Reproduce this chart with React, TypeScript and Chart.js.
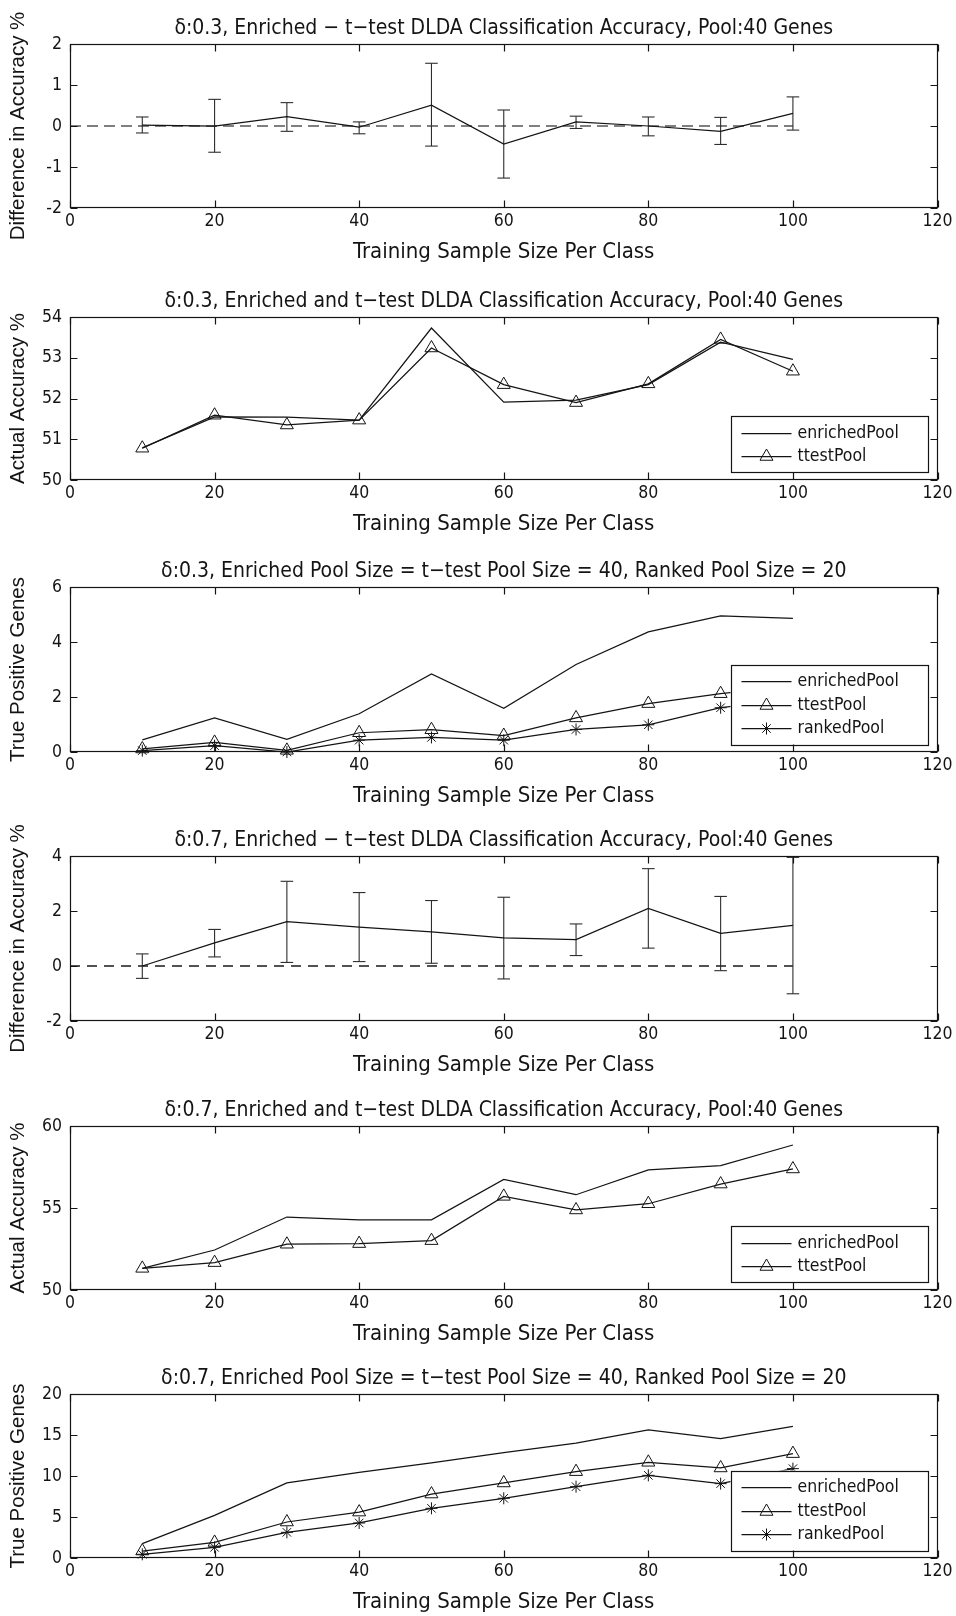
import React, { useEffect, useRef } from 'react';
import { Chart, registerables } from 'chart.js';
import { drawPoint } from 'chart.js/helpers';

Chart.register(...registerables);

// ---------------- data ----------------
const xValues = [10, 20, 30, 40, 50, 60, 70, 80, 90, 100];
const xTickValues = [0, 20, 40, 60, 80, 100, 120];
const zeroLineX = [0, 100];
const zeroLineY = [0, 0];

// delta 0.3 : enriched - ttest difference
const diff03 = [0.02, 0.0, 0.23, -0.03, 0.51, -0.44, 0.1, 0.0, -0.13, 0.31];
const diff03Low = [-0.17, -0.64, -0.13, -0.19, -0.49, -1.27, -0.06, -0.24, -0.45, -0.1];
const diff03High = [0.22, 0.65, 0.57, 0.1, 1.53, 0.39, 0.24, 0.22, 0.21, 0.71];

// delta 0.3 : actual accuracy
const acc03Enriched = [50.79, 51.55, 51.54, 51.47, 53.73, 51.91, 51.96, 52.34, 53.38, 52.96];
const acc03Ttest = [50.78, 51.59, 51.35, 51.47, 53.24, 52.34, 51.9, 52.36, 53.45, 52.67];

// delta 0.3 : true positive genes
const tp03Enriched = [0.44, 1.24, 0.46, 1.39, 2.84, 1.59, 3.18, 4.37, 4.95, 4.86];
const tp03Ttest = [0.11, 0.35, 0.06, 0.7, 0.81, 0.6, 1.24, 1.76, 2.12, 2.4];
const tp03Ranked = [0.05, 0.23, 0.0, 0.43, 0.53, 0.43, 0.82, 0.99, 1.61, 1.9];

// delta 0.7 : enriched - ttest difference
const diff07 = [0.0, 0.84, 1.61, 1.41, 1.24, 1.02, 0.96, 2.09, 1.19, 1.48];
const diff07Low = [-0.45, 0.33, 0.13, 0.16, 0.1, -0.47, 0.38, 0.65, -0.17, -1.01];
const diff07High = [0.44, 1.33, 3.08, 2.67, 2.38, 2.5, 1.53, 3.54, 2.53, 3.95];

// delta 0.7 : actual accuracy
const acc07Enriched = [51.32, 52.44, 54.45, 54.28, 54.28, 56.74, 55.81, 57.33, 57.58, 58.84];
const acc07Ttest = [51.32, 51.67, 52.79, 52.83, 53.01, 55.71, 54.88, 55.26, 56.46, 57.38];

// delta 0.7 : true positive genes
const tp07Enriched = [1.75, 5.2, 9.15, 10.45, 11.59, 12.85, 14.02, 15.61, 14.55, 16.06];
const tp07Ttest = [0.85, 1.9, 4.39, 5.6, 7.8, 9.15, 10.53, 11.67, 10.98, 12.73];
const tp07Ranked = [0.45, 1.3, 3.13, 4.27, 6.06, 7.28, 8.7, 10.08, 9.07, 10.9];

const yTicksDiff03 = [-2, -1, 0, 1, 2];
const yTicksAcc03 = [50, 51, 52, 53, 54];
const yTicksTp03 = [0, 2, 4, 6];
const yTicksDiff07 = [-2, 0, 2, 4];
const yTicksAcc07 = [50, 55, 60];
const yTicksTp07 = [0, 5, 10, 15, 20];

const titles = [
  'δ:0.3, Enriched − t−test DLDA Classification Accuracy, Pool:40 Genes',
  'δ:0.3, Enriched and t−test DLDA Classification Accuracy, Pool:40 Genes',
  'δ:0.3, Enriched Pool Size = t−test Pool Size = 40, Ranked Pool Size = 20',
  'δ:0.7, Enriched − t−test DLDA Classification Accuracy, Pool:40 Genes',
  'δ:0.7, Enriched and t−test DLDA Classification Accuracy, Pool:40 Genes',
  'δ:0.7, Enriched Pool Size = t−test Pool Size = 40, Ranked Pool Size = 20',
];
const yLabels = [
  'Difference in Accuracy %',
  'Actual Accuracy %',
  'True Positive Genes',
  'Difference in Accuracy %',
  'Actual Accuracy %',
  'True Positive Genes',
];
const xLabel = 'Training Sample Size Per Class';
const seriesNames = ['enrichedPool', 'ttestPool', 'rankedPool'];

// ---------------- styling / layout ----------------
const NARROW = '"Liberation Sans Narrow", "DejaVu Sans Condensed", "Arial Narrow", sans-serif';
const WIDE = '"Liberation Sans", Arial, sans-serif';
const INK = '#141414';
const TITLE_BLOCK = 44;
const BELOW_PLOT = 62;
const PLOT_LEFT = 70;
const RIGHT_PAD = 18.5;
const TITLE_SIZE = 21;
const XLABEL_SIZE = 22;
const YLABEL_SIZE = 20.5;
const TICK_SIZE = 17.5;
const LEGEND_SIZE = 17.5;
const LINE_W = 1.25;

const layoutTops = [44, 317, 587, 856, 1126, 1394];
const layoutHeights = [164, 163, 165, 165, 164, 164];

const pts = (ys: number[]) => xValues.map((x, i) => ({ x, y: ys[i] }));

function whiskerPoints(low: number[], high: number[]) {
  const out: any[] = [];
  xValues.forEach((x, i) => {
    out.push({ x, y: low[i] }, { x, y: high[i] }, { x, y: null });
  });
  return out;
}
function capPoints(low: number[], high: number[]) {
  return [...pts(low), ...pts(high)];
}

const panelTitlePlugin = {
  id: 'panelTitle',
  afterDraw(chart: any, _args: any, opts: any) {
    if (!opts || !opts.text) return;
    const { ctx, chartArea: ca } = chart;
    ctx.save();
    ctx.fillStyle = INK;
    ctx.font = `${TITLE_SIZE}px ${NARROW}`;
    ctx.textAlign = 'center';
    ctx.textBaseline = 'middle';
    ctx.fillText(opts.text, (ca.left + ca.right) / 2, ca.top - 15);
    ctx.restore();
  },
};

const framePlugin = {
  id: 'matlabFrame',
  afterDatasetsDraw(chart: any) {
    const { ctx, chartArea: ca, scales } = chart;
    const L = Math.round(ca.left) + 0.5;
    const R = Math.round(ca.right) - 0.5;
    const T = Math.round(ca.top) + 0.5;
    const B = Math.round(ca.bottom) - 0.5;
    ctx.save();
    ctx.strokeStyle = INK;
    ctx.lineWidth = 1.2;
    ctx.setLineDash([]);
    ctx.strokeRect(L, T, R - L, B - T);
    const tl = 7;
    ctx.beginPath();
    scales.x.ticks.forEach((t: any) => {
      const px = Math.round(scales.x.getPixelForValue(t.value)) + 0.5;
      ctx.moveTo(px, B);
      ctx.lineTo(px, B - tl);
      ctx.moveTo(px, T);
      ctx.lineTo(px, T + tl);
    });
    scales.y.ticks.forEach((t: any) => {
      const py = Math.round(scales.y.getPixelForValue(t.value)) + 0.5;
      ctx.moveTo(L, py);
      ctx.lineTo(L + tl, py);
      ctx.moveTo(R, py);
      ctx.lineTo(R - tl, py);
    });
    ctx.stroke();
    ctx.restore();
  },
};

const legendPlugin = {
  id: 'matlabLegend',
  afterDraw(chart: any) {
    const items = chart.data.datasets.filter((d: any) => d.label);
    if (!items.length) return;
    const { ctx, chartArea: ca } = chart;
    const w = 197;
    const h = 16.5 + 23.5 * (items.length - 1) + 16;
    const right = ca.right - 10;
    const left = right - w;
    const bottom = ca.bottom - 8;
    const top = bottom - h;
    ctx.save();
    ctx.fillStyle = '#ffffff';
    ctx.fillRect(left, top, w, h);
    ctx.strokeStyle = INK;
    ctx.lineWidth = 1.2;
    ctx.strokeRect(Math.round(left) + 0.5, Math.round(top) + 0.5, w, Math.round(h));
    items.forEach((d: any, i: number) => {
      const y = Math.round(top + 16.5 + i * 23.5) + 0.5;
      ctx.strokeStyle = d.borderColor;
      ctx.lineWidth = d.borderWidth;
      ctx.beginPath();
      ctx.moveTo(left + 11, y);
      ctx.lineTo(left + 61, y);
      ctx.stroke();
      if (d.pointRadius > 0) {
        ctx.fillStyle = 'rgba(0,0,0,0)';
        ctx.strokeStyle = d.pointBorderColor;
        ctx.lineWidth = 1;
        drawPoint(ctx, { pointStyle: d.pointStyle, radius: d.pointRadius, borderWidth: 1, rotation: 0 } as any, left + 36, y);
      }
      ctx.fillStyle = INK;
      ctx.font = `${LEGEND_SIZE}px ${NARROW}`;
      ctx.textBaseline = 'middle';
      ctx.textAlign = 'left';
      ctx.fillText(d.label, left + 67, y);
    });
    ctx.restore();
  },
};

function seriesDataset(label: string | undefined, ys: number[], style: string | null, radius: number) {
  return {
    label,
    data: pts(ys),
    borderColor: INK,
    borderWidth: LINE_W,
    pointStyle: style || 'circle',
    pointRadius: style ? radius : 0,
    pointBorderColor: INK,
    pointBackgroundColor: 'rgba(0,0,0,0)',
    pointBorderWidth: 1,
    tension: 0,
    clip: false,
  };
}

function errorDatasets(mean: number[], low: number[], high: number[], dashColor: string, dash: number[]) {
  return [
    {
      data: pts(mean),
      borderColor: INK,
      borderWidth: LINE_W,
      pointRadius: 0,
      clip: false,
    },
    {
      data: whiskerPoints(low, high),
      borderColor: '#2e2e2e',
      borderWidth: 1.1,
      pointRadius: 0,
      spanGaps: false,
      clip: false,
    },
    {
      data: capPoints(low, high),
      showLine: false,
      pointStyle: 'line',
      pointRadius: 6.3,
      pointBorderWidth: 1.1,
      pointBorderColor: '#2e2e2e',
      clip: false,
    },
    {
      data: zeroLineX.map((x, i) => ({ x, y: zeroLineY[i] })),
      borderColor: dashColor,
      borderWidth: 1.3,
      borderDash: dash,
      pointRadius: 0,
      clip: false,
    },
  ];
}

const panelDatasets = [
  () => errorDatasets(diff03, diff03Low, diff03High, '#555555', [11, 6]),
  () => [
    seriesDataset(seriesNames[0], acc03Enriched, null, 0),
    seriesDataset(seriesNames[1], acc03Ttest, 'triangle', 7.5),
  ],
  () => [
    seriesDataset(seriesNames[0], tp03Enriched, null, 0),
    seriesDataset(seriesNames[1], tp03Ttest, 'triangle', 7.5),
    seriesDataset(seriesNames[2], tp03Ranked, 'star', 6),
  ],
  () => errorDatasets(diff07, diff07Low, diff07High, '#1a1a1a', [10, 7]),
  () => [
    seriesDataset(seriesNames[0], acc07Enriched, null, 0),
    seriesDataset(seriesNames[1], acc07Ttest, 'triangle', 7.5),
  ],
  () => [
    seriesDataset(seriesNames[0], tp07Enriched, null, 0),
    seriesDataset(seriesNames[1], tp07Ttest, 'triangle', 7.5),
    seriesDataset(seriesNames[2], tp07Ranked, 'star', 6),
  ],
];
const panelYTicks = [yTicksDiff03, yTicksAcc03, yTicksTp03, yTicksDiff07, yTicksAcc07, yTicksTp07];

function makeConfig(i: number): any {
  const yt = panelYTicks[i];
  const xlLH = XLABEL_SIZE * 1.2;
  const ylLH = YLABEL_SIZE * 1.2;
  return {
    type: 'line',
    data: { datasets: panelDatasets[i]() },
    options: {
      animation: false,
      responsive: false,
      devicePixelRatio: 1,
      events: [],
      layout: { padding: { left: 0, right: RIGHT_PAD, top: TITLE_BLOCK, bottom: 0 } },
      plugins: {
        legend: { display: false },
        tooltip: { enabled: false },
        title: { display: false },
        panelTitle: { text: titles[i] },
      },
      scales: {
        x: {
          type: 'linear',
          min: 0,
          max: 120,
          afterBuildTicks: (s: any) => {
            s.ticks = xTickValues.map((v) => ({ value: v }));
          },
          afterFit: (s: any) => {
            s.height = BELOW_PLOT;
          },
          grid: { display: false, drawTicks: false, tickLength: 0 },
          border: { display: false },
          ticks: {
            color: INK,
            padding: 3,
            maxRotation: 0,
            autoSkip: false,
            font: { family: NARROW, size: TICK_SIZE },
            callback: (v: any) => String(v),
          },
          title: {
            display: true,
            text: xLabel,
            color: INK,
            font: { family: NARROW, size: XLABEL_SIZE, lineHeight: 1.2 },
            padding: { top: 0, bottom: BELOW_PLOT - 44 - xlLH / 2 },
          },
        },
        y: {
          type: 'linear',
          min: yt[0],
          max: yt[yt.length - 1],
          afterBuildTicks: (s: any) => {
            s.ticks = yt.map((v) => ({ value: v }));
          },
          afterFit: (s: any) => {
            s.width = PLOT_LEFT;
          },
          grid: { display: false, drawTicks: false, tickLength: 0 },
          border: { display: false },
          ticks: {
            color: INK,
            padding: 8,
            autoSkip: false,
            font: { family: NARROW, size: TICK_SIZE },
            callback: (v: any) => String(v),
          },
          title: {
            display: true,
            text: yLabels[i],
            color: INK,
            font: { family: WIDE, size: YLABEL_SIZE, lineHeight: 1.2 },
            padding: { top: 18.5 - ylLH / 2, bottom: 0 },
          },
        },
      },
    },
    plugins: [panelTitlePlugin, framePlugin, legendPlugin],
  };
}

function Panel({ index }: { index: number }) {
  const ref = useRef<HTMLCanvasElement>(null);
  const height = TITLE_BLOCK + layoutHeights[index] + BELOW_PLOT;
  useEffect(() => {
    const chart = new Chart(ref.current as HTMLCanvasElement, makeConfig(index));
    return () => chart.destroy();
  }, [index]);
  return (
    <div style={{ position: 'absolute', left: 0, top: layoutTops[index] - TITLE_BLOCK, width: 956, height }}>
      <canvas ref={ref} width={956} height={height} style={{ display: 'block', width: 956, height }} />
    </div>
  );
}

export default function App() {
  return (
    <div style={{ position: 'absolute', left: 0, top: 0, width: 956, height: 1616, background: '#fff', overflow: 'hidden' }}>
      {titles.map((_, i) => (
        <Panel key={i} index={i} />
      ))}
    </div>
  );
}
